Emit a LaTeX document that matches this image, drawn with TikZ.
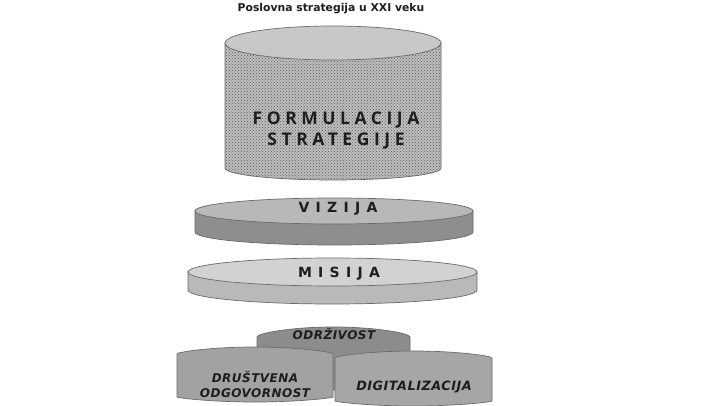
\documentclass[tikz,border=0pt]{standalone}
\usepackage{fontspec}
\setmainfont{Open Sans}
\newfontfamily\titlefont{DejaVu Sans}
\newfontfamily\bigfont[LetterSpace=26]{Open Sans}
\newfontfamily\discfont[LetterSpace=45]{DejaVu Sans}
\newfontfamily\basefont[LetterSpace=4]{DejaVu Sans}
\usetikzlibrary{patterns}
\definecolor{edge}{HTML}{6A6A6A}
\definecolor{bigtop}{HTML}{C8C8C8}
\definecolor{bigbody}{HTML}{BEBEBE}
\definecolor{viztop}{HTML}{B8B8B8}
\definecolor{vizside}{HTML}{8E8E8E}
\definecolor{mistop}{HTML}{D2D2D2}
\definecolor{misside}{HTML}{B9B9B9}
\definecolor{odrz}{HTML}{8C8C8C}
\definecolor{drus}{HTML}{A2A2A2}
\definecolor{digi}{HTML}{A6A6A6}
\definecolor{ink}{HTML}{1E1E1E}
\tikzset{
  outl/.style={draw=edge, line width=0.7pt},
  lbl/.style={inner sep=0pt, text=ink},
  baselbl/.style={lbl, align=center, font=\basefont\bfseries\itshape\fontsize{12}{15}\selectfont},
  disclbl/.style={lbl, font=\discfont\bfseries\fontsize{14}{16}\selectfont},
}
\begin{document}
\begin{tikzpicture}[x=1pt,y=1pt]
\useasboundingbox (0,0) rectangle (720,405);
\fill[white] (0,0) rectangle (720,405);
% title
\node[lbl, font=\titlefont\bfseries\fontsize{10.8}{12}\selectfont] (title) at (331,396) {Poslovna strategija u XXI veku};
% big cylinder
\path[outl, fill=bigbody] (225,362) -- (225,237) arc[start angle=180,end angle=360,x radius=108pt,y radius=12pt] -- (441,362) -- cycle;
\fill[pattern=crosshatch dots, pattern color=black!65] (225,362) -- (225,237) arc[start angle=180,end angle=360,x radius=108pt,y radius=12pt] -- (441,362) -- cycle;
\path[outl, fill=bigtop] (333,362) ellipse [x radius=108pt, y radius=17pt];
\node[lbl, align=center, font=\bigfont\bfseries\fontsize{17.5}{21}\selectfont] (form) at (336,275) {FORMULACIJA\\STRATEGIJE};
% vizija
\path[outl, fill=vizside] (195,194) -- (195,173) arc[start angle=180,end angle=360,x radius=139pt,y radius=13pt] -- (473,194) -- cycle;
\path[outl, fill=viztop] (334,194) ellipse [x radius=139pt, y radius=13pt];
\node[disclbl] (viz) at (338,196) {VIZIJA};
% misija
\path[outl, fill=misside] (188,133) -- (188,115) arc[start angle=180,end angle=360,x radius=144.5pt,y radius=14pt] -- (477,133) -- cycle;
\path[outl, fill=mistop] (332.5,133) ellipse [x radius=144.5pt, y radius=14pt];
\node[disclbl] (mis) at (339,131) {MISIJA};
% odrzivost
\path[outl, fill=odrz, rounded corners=4pt] (257,15) -- (257,64) arc[start angle=180,end angle=0,x radius=76.5pt,y radius=14pt] -- (410,15) -- cycle;
\node[baselbl, font=\basefont\bfseries\itshape\fontsize{12}{13}\selectfont] (odr) at (334,71) {ODRŽIVOST};
% drustvena
\path[outl, fill=drus, rounded corners=4pt] (177,12) -- (177,47) arc[start angle=180,end angle=0,x radius=78pt,y radius=11pt] -- (333,12) arc[start angle=0,end angle=-180,x radius=78pt,y radius=9pt] -- cycle;
\node[baselbl] (dru) at (255,20) {DRUŠTVENA\\ODGOVORNOST};
% digitalizacija
\path[outl, fill=digi, rounded corners=4pt] (335,8) -- (335,43) arc[start angle=180,end angle=0,x radius=78.5pt,y radius=11pt] -- (492,8) arc[start angle=0,end angle=-180,x radius=78.5pt,y radius=9pt] -- cycle;
\node[baselbl, font=\basefont\bfseries\itshape\fontsize{12.8}{15}\selectfont] (dig) at (414,18) {DIGITALIZACIJA};
\end{tikzpicture}
\end{document}
